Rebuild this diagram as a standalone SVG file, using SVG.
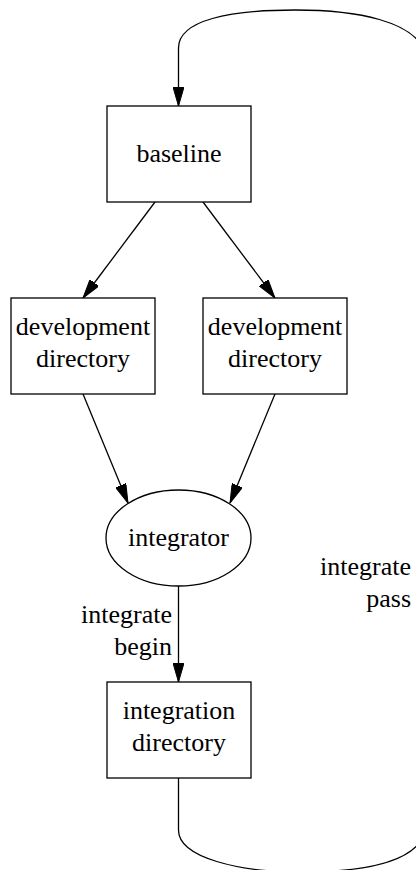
<svg xmlns="http://www.w3.org/2000/svg" width="416" height="870" viewBox="0 0 416 870">
<style>
.t{font-size:26px;fill:#000}
.n{fill:#fff;stroke:#000;stroke-width:1.3}
.e{fill:none;stroke:#000;stroke-width:1.3}
.m{text-anchor:middle}
.r{text-anchor:end}
</style>
<defs>
<marker id="a" viewBox="0 0 19 11" refX="19" refY="5.5" markerWidth="19" markerHeight="11" orient="auto" markerUnits="userSpaceOnUse">
<path d="M0,0 L19,5.5 L0,11 Z" fill="#000" stroke="#000" stroke-width="1"/>
</marker>
</defs>
<g font-family="'Liberation Serif', 'DejaVu Serif', serif">
<g id="edges">
<path class="e" d="M155,202 L83,298" marker-end="url(#a)"/>
<path class="e" d="M203,202 L275,298" marker-end="url(#a)"/>
<path class="e" d="M83,394 L128,503" marker-end="url(#a)"/>
<path class="e" d="M275,394 L230,503" marker-end="url(#a)"/>
<path class="e" d="M178.5,586 L178.5,682" marker-end="url(#a)"/>
<path class="e" d="M178.5,778 L178.5,830 C178.5,858 240,872 300,872 C360,872 412,864 424,835 L424,50 C412,22 360,10 295,10 C230,10 178.5,20 178.5,48 L178.5,106" marker-end="url(#a)"/>
<text class="t r" x="172" y="623">integrate</text>
<text class="t r" x="172" y="655">begin</text>
<text class="t r" x="411" y="575">integrate</text>
<text class="t r" x="411" y="607">pass</text>
</g>
<g id="baseline">
<rect class="n" x="107" y="106" width="144" height="96"/>
<text class="t m" x="179" y="162">baseline</text>
</g>
<g id="dev1">
<rect class="n" x="11" y="298" width="144" height="96"/>
<text class="t m" x="83" y="335">development</text>
<text class="t m" x="83" y="367">directory</text>
</g>
<g id="dev2">
<rect class="n" x="203" y="298" width="144" height="96"/>
<text class="t m" x="275" y="335">development</text>
<text class="t m" x="275" y="367">directory</text>
</g>
<g id="integrator">
<ellipse class="n" cx="178.5" cy="538" rx="72.5" ry="48"/>
<text class="t m" x="178.5" y="546">integrator</text>
</g>
<g id="integration">
<rect class="n" x="107" y="682" width="144" height="96"/>
<text class="t m" x="179" y="719">integration</text>
<text class="t m" x="179" y="751">directory</text>
</g>
</g>
</svg>
